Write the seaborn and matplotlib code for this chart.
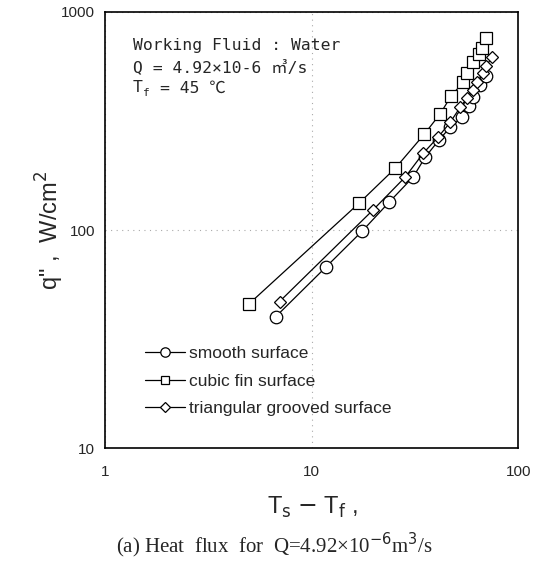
import numpy as np
import pandas as pd
import matplotlib
matplotlib.use("Agg")
import matplotlib.pyplot as plt
import seaborn as sns
from matplotlib.ticker import FixedLocator, LogLocator, NullFormatter
from matplotlib.transforms import offset_copy

# ---- data ----
smooth_x = [6.7, 11.8, 17.6, 23.7, 31.0, 35.5, 41.4, 46.9, 53.6, 57.9, 60.5, 65.5, 70.0]
smooth_y = [40, 68, 99, 134, 175, 216, 259, 296, 330, 371, 408, 462, 508]
cubic_x = [5.0, 17.0, 25.4, 35.1, 41.9, 47.4, 54.2, 56.6, 60.5, 64.7, 66.9, 70.0]
cubic_y = [46, 133, 192, 275, 341, 412, 477, 525, 590, 641, 684, 760]
tri_x = [7.0, 19.9, 28.4, 34.7, 41.0, 46.9, 52.4, 56.6, 60.5, 63.3, 67.7, 70.0, 74.8]
tri_y = [47, 124, 175, 225, 267, 312, 366, 403, 438, 477, 525, 565, 622]
series_names = ["smooth surface", "cubic fin surface", "triangular grooved surface"]
x_ticks = [1, 10, 100]
y_ticks = [10, 100, 1000]

frames = []
for name, xs, ys in zip(series_names, [smooth_x, cubic_x, tri_x], [smooth_y, cubic_y, tri_y]):
    frames.append(pd.DataFrame({"dT": xs, "q": ys, "surface": name}))
df = pd.concat(frames, ignore_index=True)

sns.set_style("white")
plt.rcParams["font.family"] = ["Liberation Sans", "DejaVu Sans"]

fig = plt.figure(figsize=(5.49, 5.68), dpi=100)
ax = fig.add_axes([0.191, 0.211, 0.753, 0.768])

markers = {"smooth surface": "o", "cubic fin surface": "s", "triangular grooved surface": "D"}
msizes = {"smooth surface": 9, "cubic fin surface": 8.5, "triangular grooved surface": 6.5}
for name in series_names:
    sub = df[df["surface"] == name]
    sns.lineplot(data=sub, x="dT", y="q", ax=ax, color="black", linewidth=0.9,
                 marker=markers[name], markersize=msizes[name], markerfacecolor="white",
                 markeredgecolor="black", markeredgewidth=0.9, label=name, sort=True,
                 estimator=None)

ax.set_xscale("log")
ax.set_yscale("log")
ax.set_xlim(1, 100)
ax.set_ylim(10, 1000)
ax.xaxis.set_major_locator(FixedLocator(x_ticks))
ax.yaxis.set_major_locator(FixedLocator(y_ticks))
ax.set_xticklabels([str(t) for t in x_ticks])
ax.set_yticklabels([str(t) for t in y_ticks])
ax.xaxis.set_minor_locator(LogLocator(base=10, subs=np.arange(2, 10)))
ax.yaxis.set_minor_locator(LogLocator(base=10, subs=np.arange(2, 10)))
ax.xaxis.set_minor_formatter(NullFormatter())
ax.yaxis.set_minor_formatter(NullFormatter())
ax.tick_params(which="major", direction="in", length=5, width=0.8, labelsize=11, pad=12,
               color="#888888", top=False, right=False)
ax.tick_params(which="minor", direction="in", length=3, width=0.6, color="#aaaaaa")
ax.tick_params(axis="y", which="major", pad=7)

for s in ax.spines.values():
    s.set_linewidth(1.2)
    s.set_color("black")

ax.grid(True, which="major", linestyle=(0, (1, 4)), color="#aaaaaa", linewidth=0.8)

ax.set_xlabel("")
ax.set_ylabel("")

fig.text(0.09, 0.595, "q\" ,  W/cm$^2$", rotation=90, fontsize=17, ha="center", va="center")
fig.text(0.57, 0.107, "T$_{\\rm s}$ $-$ T$_{\\rm f}$ ,", fontsize=17, ha="center", va="center")
fig.text(0.50, 0.040, "(a) Heat  flux  for  Q=4.92×10$^{-6}$m$^{3}$/s", fontsize=15,
         ha="center", va="center", family=["Liberation Serif", "DejaVu Serif"])

txt_fam = ["DejaVu Sans Mono", "Noto Sans CJK KR", "DejaVu Sans"]
fs = 11.8
ax.text(0.068, 0.924, "Working Fluid : Water", transform=ax.transAxes, fontsize=fs,
        family=txt_fam, va="center")
ax.text(0.068, 0.874, "Q = 4.92×10-6 ㎥/s", transform=ax.transAxes, fontsize=fs,
        family=txt_fam, va="center")
ax.text(0.068, 0.826, "T", transform=ax.transAxes, fontsize=fs, family=txt_fam, va="center")
ax.text(0.068, 0.826, "f", transform=offset_copy(ax.transAxes, fig=fig, x=7.5, y=-4, units="points"),
        fontsize=8, family=txt_fam, va="center")
ax.text(0.068, 0.826, "= 45 ℃", transform=offset_copy(ax.transAxes, fig=fig, x=19.5, y=0, units="points"),
        fontsize=fs, family=txt_fam, va="center")

leg = ax.legend(loc="lower left", bbox_to_anchor=(0.06, 0.038), frameon=False, fontsize=12.5,
                handlelength=2.3, handletextpad=0.2, labelspacing=0.7, markerscale=0.75)

fig.savefig("out.png", dpi=100)
